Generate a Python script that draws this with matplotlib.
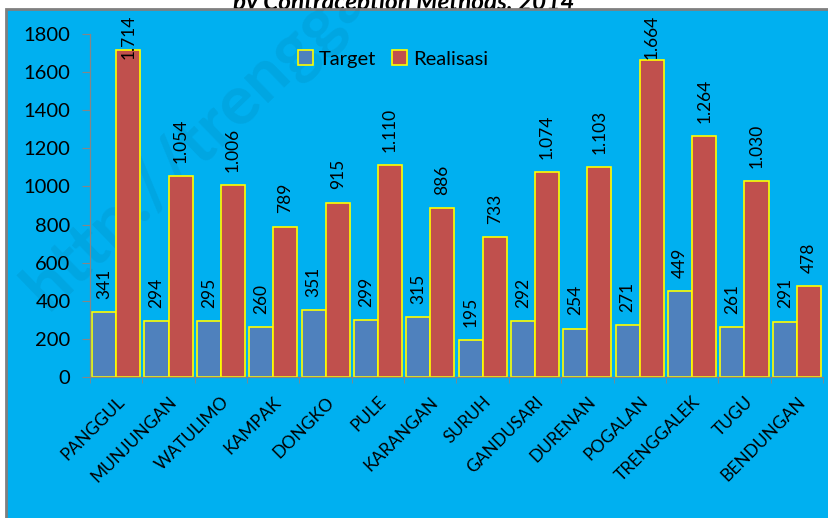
import numpy as np
import matplotlib
matplotlib.use("Agg")
import matplotlib.pyplot as plt
from matplotlib.patches import Rectangle, Patch
from matplotlib.ticker import FixedLocator

plt.rcParams['font.family'] = ['Lato', 'DejaVu Sans']

# data
kecamatan = ['PANGGUL', 'MUNJUNGAN', 'WATULIMO', 'KAMPAK', 'DONGKO', 'PULE',
             'KARANGAN', 'SURUH', 'GANDUSARI', 'DURENAN', 'POGALAN',
             'TRENGGALEK', 'TUGU', 'BENDUNGAN']
target = [341, 294, 295, 260, 351, 299, 315, 195, 292, 254, 271, 449, 261, 291]
realisasi = [1714, 1054, 1006, 789, 915, 1110, 886, 733, 1074, 1103, 1664,
             1264, 1030, 478]

BG = '#00b0f0'
C_TARGET = '#4f81bd'
C_REAL = '#c0504d'
EDGE = '#ffff00'
GREY = '#868686'

W, H = 829, 518
fig = plt.figure(figsize=(W / 100, H / 100), dpi=100)
fig.patch.set_facecolor('white')

# title line, mostly cut off by the chart panel
fig.text(0.487, 1 - 10 / H, 'by Contraception Methods, 2014',
         ha='center', va='baseline', fontsize=17.5, fontweight='bold',
         fontstyle='italic', color='black', zorder=1)

# blue chart panel with grey border
panel = Rectangle((6 / W, -0.01), 1.0, 1 - 9 / H + 0.01,
                  transform=fig.transFigure, facecolor=BG, edgecolor='#7f7f7f',
                  linewidth=2, zorder=2)
fig.patches.append(panel)

# faint watermark
wm = fig.text(48 / W, 1 - 312 / H, 'http://trenggalekkab',
              rotation=44, fontsize=50, fontweight='bold', color='black',
              alpha=0.06, ha='left', va='baseline', zorder=2.5,
              rotation_mode='anchor')
wm.set_clip_path(panel)

ax = fig.add_axes([90 / W, 1 - 377 / H, 733 / W, 343 / H])
ax.set_zorder(3)
ax.patch.set_alpha(0)

x = np.arange(len(kecamatan))
w = 0.46
ax.bar(x - w / 2, target, width=w, color=C_TARGET, edgecolor=EDGE,
       linewidth=1.2, label='Target')
ax.bar(x + w / 2, realisasi, width=w, color=C_REAL, edgecolor=EDGE,
       linewidth=1.2, label='Realisasi')

labels = []
for xs, vals in [(x - w / 2, target), (x + w / 2, realisasi)]:
    for xi, v in zip(xs, vals):
        t = ax.annotate(f'{v:,}'.replace(',', '.'), (xi, v), xytext=(0, 9.5),
                        textcoords='offset points', rotation=90, ha='center',
                        va='bottom', fontsize=12.5, color='black',
                        annotation_clip=False)
        labels.append(t)

ax.set_xlim(-0.5, len(kecamatan) - 0.5)
ax.set_ylim(0, 1800)
ax.set_yticks(np.arange(0, 1801, 200))
ax.tick_params(axis='y', length=6, color=GREY, labelsize=14.5, pad=8,
               labelcolor='black')

ax.set_xticks(x)
ax.set_xticklabels(kecamatan, rotation=45, ha='right', rotation_mode='anchor')
ax.tick_params(axis='x', which='major', length=0, labelsize=12.5, pad=12,
               labelcolor='black')
ax.xaxis.set_minor_locator(FixedLocator(np.arange(-0.5, len(kecamatan), 1)))
ax.tick_params(axis='x', which='minor', length=4.5, color=GREY)

for s in ['top', 'right']:
    ax.spines[s].set_visible(False)
for s in ['left', 'bottom']:
    ax.spines[s].set_color(GREY)
    ax.spines[s].set_linewidth(0.9)

handles = [Patch(facecolor=C_TARGET, edgecolor=EDGE, linewidth=1.2, label='Target'),
           Patch(facecolor=C_REAL, edgecolor=EDGE, linewidth=1.2, label='Realisasi')]
fig.legend(handles=handles, loc='center', bbox_to_anchor=(393 / W, 1 - 59 / H),
           ncol=2, frameon=False, fontsize=14.5, handlelength=0.75,
           handleheight=0.75, handletextpad=0.3, columnspacing=0.8)

# keep data labels inside the chart area, like the spreadsheet does
fig.canvas.draw()
top_limit = H - 15
for t in labels:
    bb = t.get_window_extent()
    if bb.y1 > top_limit:
        t.xyann = (0, 9.5 - (bb.y1 - top_limit) * 72 / 100)

fig.savefig('out.png', dpi=100)
